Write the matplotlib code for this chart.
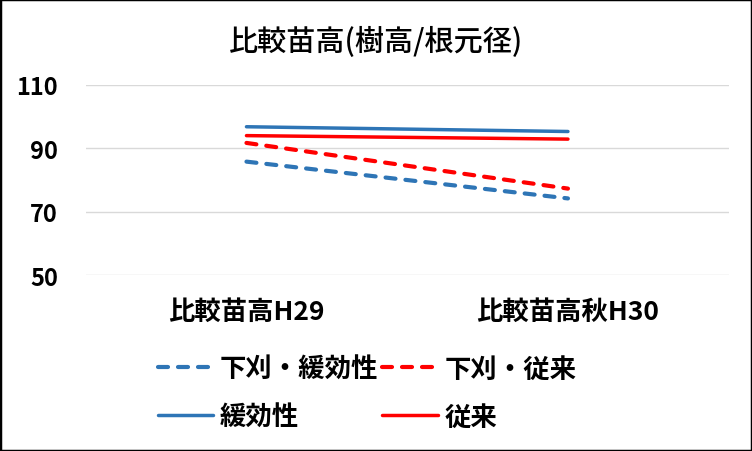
import matplotlib.pyplot as plt

plt.rcParams['font.family'] = ['Noto Sans CJK JP', 'DejaVu Sans']

categories = ['比較苗高H29', '比較苗高秋H30']
series_names = ['下刈・緩効性', '緩効性', '下刈・従来', '従来']
shita_kankou = [85.8, 74.2]
kankou = [96.8, 95.3]
shita_jurai = [91.7, 77.3]
jurai = [94.0, 92.9]
yticks = [50, 70, 90, 110]

blue = '#2E75B6'
red = '#FF0000'

fig = plt.figure(figsize=(7.52, 4.52), dpi=100)
ax = fig.add_axes([0.114, 0.389, 0.855, 0.421])

x = range(len(categories))
lw = 2.5
dash = dict(linestyle='--', lw=3.0, dashes=(2.4, 2.4), dash_capstyle='round')
ax.plot(x, shita_kankou, color=blue, label=series_names[0], **dash)
ax.plot(x, kankou, color=blue, lw=lw, label=series_names[1], solid_capstyle='round')
ax.plot(x, shita_jurai, color=red, label=series_names[2], **dash)
ax.plot(x, jurai, color=red, lw=lw, label=series_names[3], solid_capstyle='round')

ax.set_xlim(-0.5, 1.5)
ax.set_ylim(50, 110)
ax.set_yticks(yticks)
ax.set_yticklabels([str(v) for v in yticks], fontsize=17, fontweight='bold')
ax.set_xticks(list(x))
ax.set_xticklabels(categories, fontsize=19, fontweight='bold')
ax.tick_params(axis='both', length=0)
ax.tick_params(axis='y', pad=20)
ax.tick_params(axis='x', pad=16)
ax.grid(axis='y', color='#D9D9D9', lw=1)
ax.set_axisbelow(True)
for s in ax.spines.values():
    s.set_visible(False)

fig.suptitle('比較苗高(樹高/根元径)', y=0.907, va='center', fontsize=21,
             fontweight='medium')

fig.legend(loc='center', bbox_to_anchor=(0.488, 0.128), ncol=2, frameon=False,
           prop=dict(size=19, weight='bold'), handlelength=2.1,
           columnspacing=0.15, handletextpad=0.25, labelspacing=0.8)

fig.patches.append(plt.Rectangle((0, 0), 1, 1, transform=fig.transFigure,
                                 fill=False, edgecolor='black', lw=2.5))

fig.savefig('out.png', dpi=100)
